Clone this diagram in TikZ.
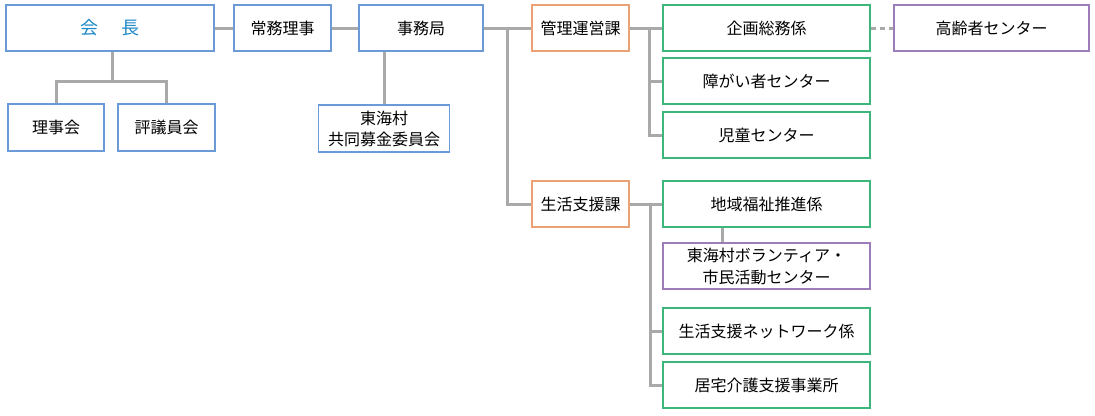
\documentclass[tikz,border=0pt]{standalone}
\usepackage{fontspec}
\setmainfont{Noto Sans CJK JP}
\definecolor{boxblue}{HTML}{6A9BD6}
\definecolor{boxorange}{HTML}{EBA276}
\definecolor{boxgreen}{HTML}{3DB67C}
\definecolor{boxpurple}{HTML}{9D7DB9}
\definecolor{linegray}{HTML}{A9A9A9}
\definecolor{headblue}{HTML}{1E8AC8}
\tikzset{
  box/.style={draw, line width=1.5pt, fill=white, inner sep=0pt, minimum height=46pt, align=center, font=\fontsize{16}{20}\selectfont},
  bluebox/.style={box, draw=boxblue},
  orangebox/.style={box, draw=boxorange, minimum width=97pt},
  greenbox/.style={box, draw=boxgreen, minimum width=207pt},
  purplebox/.style={box, draw=boxpurple},
  link/.style={draw=linegray, line width=3pt}
}
\begin{document}
\begin{tikzpicture}[x=1pt, y=-1pt]
	\useasboundingbox (0,0) rectangle (1095,415);
	% diramazioni
	\coordinate (kj) at (112,81);
	\coordinate (b1) at (507,28);
	\coordinate (b2) at (649,28);
	\coordinate (b3) at (650,204);

	% vertici
	\node[bluebox, minimum width=208pt, text=headblue, font=\fontsize{18}{22}\selectfont] (kaicho) at (110,28) {会\hspace{24pt}長};
	\node[bluebox, minimum width=97pt] (jomu) at (282.5,28) {常務理事};
	\node[bluebox, minimum width=124pt] (jimu) at (421,28) {事務局};

	% sotto il presidente
	\node[bluebox, minimum width=96pt, minimum height=47pt] (riji) at (56,127.5) {理事会};
	\node[bluebox, minimum width=97pt, minimum height=47pt] (hyogi) at (166.5,127.5) {評議員会};
	\node[bluebox, minimum width=131pt, minimum height=47pt, font=\fontsize{16}{21}\selectfont] (kyodo) at (384,128.5) {東海村\\共同募金委員会};

	% 管理運営課
	\node[orangebox] (kanri) at (580.5,28) {管理運営課};
	\node[greenbox] (kikaku) at (766.5,28) {企画総務係};
	\node[purplebox, minimum width=195pt] (korei) at (991.5,28) {高齢者センター};
	\node[greenbox] (shogai) at (766.5,81) {障がい者センター};
	\node[greenbox] (jido) at (766.5,135) {児童センター};

	% 生活支援課
	\node[orangebox] (seikatsu) at (580.5,204) {生活支援課};
	\node[greenbox] (chiiki) at (766.5,204) {地域福祉推進係};
	\node[purplebox, minimum width=207pt, font=\fontsize{16}{22}\selectfont] (volun) at (766.5,266) {東海村ボランティア・\\市民活動センター};
	\node[greenbox] (network) at (766.5,331) {生活支援ネットワーク係};
	\node[greenbox] (kyotaku) at (766.5,385) {居宅介護支援事業所};

	% linee
	\draw[link] (kaicho) -- (jomu);
	\draw[link] (jomu) -- (jimu);
	\draw[link] (kaicho.south -| kj) -- (kj);
	\draw[link] (riji.north) |- (kj) -| (hyogi.north);
	\draw[link] (kyodo.north |- jimu.south) -- (kyodo.north);

	\draw[link] (jimu) -- (kanri);
	\draw[link] (b1) |- (seikatsu.west);
	\draw[link] (kanri) -- (kikaku);
	\draw[link] (b2) |- (shogai.west);
	\draw[link] (b2) |- (jido.west);
	\draw[link, dash pattern=on 5pt off 4pt] (kikaku) -- (korei);

	\draw[link] (seikatsu) -- (chiiki);
	\draw[link] (b3) |- (network.west);
	\draw[link] (b3) |- (kyotaku.west);
	\draw[link] ([xshift=-44pt]chiiki.south) -- ([xshift=-44pt]volun.north);
\end{tikzpicture}
\end{document}
